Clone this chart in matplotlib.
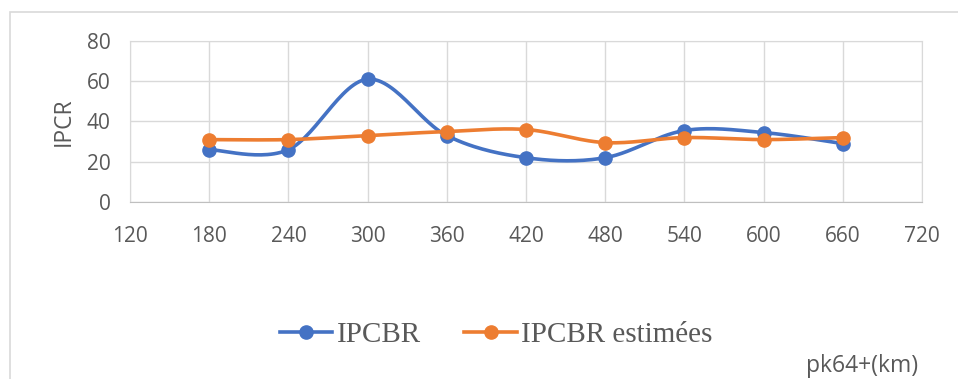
import numpy as np
import matplotlib
matplotlib.use("Agg")
import matplotlib.pyplot as plt
from matplotlib.patches import Rectangle
from matplotlib.lines import Line2D

# data
pk = [180, 240, 300, 360, 420, 480, 540, 600, 660]
ipcbr = [26, 26, 61, 33, 22, 22, 35.5, 34.5, 29]
ipcbr_est = [31, 31, 33, 35, 36, 29.5, 32, 31, 32]
x_ticks = [120, 180, 240, 300, 360, 420, 480, 540, 600, 660, 720]
y_ticks = [0, 20, 40, 60, 80]

blue = "#4472C4"
orange = "#ED7D31"
grey_txt = "#595959"


def smooth(xs, ys, n=30):
    # catmull-rom style smoothing, like excel "smoothed line"
    xs = np.asarray(xs, float)
    ys = np.asarray(ys, float)
    px = np.concatenate([[xs[0]], xs, [xs[-1]]])
    py = np.concatenate([[ys[0]], ys, [ys[-1]]])
    outx, outy = [], []
    for i in range(1, len(px) - 2):
        p0, p1, p2, p3 = (np.array([px[j], py[j]]) for j in (i - 1, i, i + 1, i + 2))
        c1 = p1 + (p2 - p0) / 6
        c2 = p2 - (p3 - p1) / 6
        t = np.linspace(0, 1, n)[:, None]
        b = (1 - t) ** 3 * p1 + 3 * (1 - t) ** 2 * t * c1 + 3 * (1 - t) * t ** 2 * c2 + t ** 3 * p2
        outx.extend(b[:, 0])
        outy.extend(b[:, 1])
    return outx, outy


fig = plt.figure(figsize=(9.58, 3.79), dpi=100)
ax = fig.add_axes([0.1357, 0.467, 0.8267, 0.425])

for ys, col in [(ipcbr, blue), (ipcbr_est, orange)]:
    sx, sy = smooth(pk, ys)
    ax.plot(sx, sy, color=col, lw=2.6, solid_capstyle="round", zorder=3)
    ax.plot(pk, ys, "o", color=col, ms=9.5, zorder=4)

ax.set_xlim(120, 720)
ax.set_ylim(0, 80)
ax.set_xticks(x_ticks)
ax.set_yticks(y_ticks)
ax.grid(True, color="#D9D9D9", lw=1)
ax.set_axisbelow(True)
for s in ax.spines.values():
    s.set_color("#D9D9D9")
ax.spines["bottom"].set_color("#BFBFBF")
ax.tick_params(length=0, labelsize=15, labelcolor=grey_txt)
ax.tick_params(axis="x", pad=17)
ax.tick_params(axis="y", pad=14)
for lab in ax.get_xticklabels() + ax.get_yticklabels():
    lab.set_family("Open Sans")
ax.set_ylabel("IPCR", fontsize=16.5, color=grey_txt, family="Open Sans", labelpad=8)

handles = [
    Line2D([], [], color=blue, lw=2.6, marker="o", ms=9.5),
    Line2D([], [], color=orange, lw=2.6, marker="o", ms=9.5),
]
fig.legend(handles, ["IPCBR", "IPCBR estimées"], loc="center", bbox_to_anchor=(0.518, 0.116),
           ncol=2, frameon=False, handlelength=1.8, handletextpad=0.15, columnspacing=1.5,
           prop={"family": "Liberation Serif", "size": 21}, labelcolor=grey_txt)

fig.text(0.958, 0.034, "pk64+(km)", ha="right", va="center", fontsize=16.5,
         color=grey_txt, family="Open Sans")

fig.patches.append(Rectangle((0.0104, -0.1), 1.1, 1.068, transform=fig.transFigure,
                             fill=False, ec="#D9D9D9", lw=1.2))

fig.savefig("out.png", dpi=100)
